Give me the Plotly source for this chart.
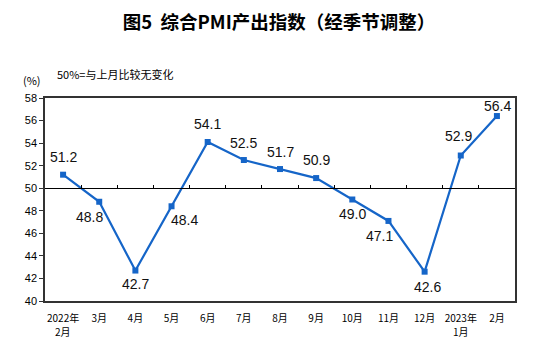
import plotly.graph_objects as go

months = ["2022年<br>2月", "3月", "4月", "5月", "6月", "7月", "8月", "9月",
          "10月", "11月", "12月", "2023年<br>1月", "2月"]
pmi = [51.2, 48.8, 42.7, 48.4, 54.1, 52.5, 51.7, 50.9, 49.0, 47.1, 42.6, 52.9, 56.4]
y_ticks = list(range(40, 59, 2))

# pixel offsets (dx, dy) of each value label relative to its marker
label_offsets = [(0, 18), (-10, -15), (0, -13), (13, -14), (0, 18), (0, 17),
                 (0, 17), (0, 18), (0, -14), (-9, -15), (3, -15), (-2, 20),
                 (1, 10)]

blue = "#1565C8"
font_cjk = "Noto Sans CJK SC, Liberation Sans, sans-serif"
x_idx = list(range(len(months)))

# first line of each month label goes on the axis, second line (if any) below it
first_lines = [m.split("<br>")[0] for m in months]
second_lines = [m.split("<br>")[1] if "<br>" in m else "" for m in months]

fig = go.Figure()
fig.add_trace(go.Scatter(
    x=x_idx, y=pmi,
    mode="lines+markers",
    line=dict(color=blue, width=2.2),
    marker=dict(symbol="square", size=6, color=blue),
    showlegend=False, hoverinfo="x+y",
))
# invisible trace so the 50-line axis is drawn
fig.add_trace(go.Scatter(x=[0], y=[50], xaxis="x2", mode="markers",
                         marker=dict(opacity=0), showlegend=False, hoverinfo="skip"))

annotations = []
for i, (v, (dx, dy)) in enumerate(zip(pmi, label_offsets)):
    annotations.append(dict(
        x=i, y=v, xref="x", yref="y", text=f"{v:.1f}", showarrow=False,
        xshift=dx, yshift=dy, xanchor="center", yanchor="middle",
        font=dict(family="Liberation Sans, Arial", size=14, color="#111"),
    ))
for i, s in enumerate(second_lines):
    if s:
        annotations.append(dict(
            x=i, y=0, xref="x", yref="paper", text=s, showarrow=False,
            yshift=-30, xanchor="center", yanchor="middle",
            font=dict(family=font_cjk, size=10, color="#000"),
        ))
annotations += [
    dict(text="(%)", xref="paper", yref="paper", x=-0.028, y=1.089,
         xanchor="center", yanchor="middle", showarrow=False,
         font=dict(family=font_cjk, size=11, color="#000")),
    dict(text="50%=与上月比较无变化", xref="paper", yref="paper", x=0.021, y=1.118,
         xanchor="left", yanchor="middle", showarrow=False,
         font=dict(family=font_cjk, size=11, color="#000")),
]

fig.update_layout(
    width=558, height=349,
    margin=dict(l=45, r=43, t=98, b=48),
    paper_bgcolor="white", plot_bgcolor="white",
    title=dict(text="<b>图5  综合PMI产出指数（经季节调整）</b>",
               x=0.5, xanchor="center", y=0.935, yanchor="middle",
               font=dict(family=font_cjk, size=18.5, color="#000")),
    xaxis=dict(range=[-0.5, 12.5], tickmode="array",
               tickvals=x_idx, ticktext=first_lines,
               showgrid=False, zeroline=False, showline=True,
               linecolor="#333", linewidth=1.5, mirror=True, ticks="",
               ticklabelstandoff=7,
               tickfont=dict(family=font_cjk, size=10, color="#000")),
    xaxis2=dict(range=[-0.5, 12.5], overlaying="x", anchor="free",
                position=(50 - 40) / (58 - 40), side="bottom",
                tickmode="array", tickvals=[i + 0.5 for i in x_idx[:-1]],
                ticks="inside", ticklen=3, tickcolor="#000", tickwidth=1,
                showticklabels=False, showgrid=False, zeroline=False,
                showline=True, linecolor="#000", linewidth=1.2),
    yaxis=dict(range=[40, 58], tickmode="array", tickvals=y_ticks,
               showgrid=False, zeroline=False, showline=True,
               linecolor="#333", linewidth=1.5, mirror=True,
               ticks="outside", ticklen=4, tickcolor="#333",
               tickfont=dict(family="Liberation Sans, Arial", size=11, color="#000")),
    annotations=annotations,
)

fig.write_html("out.html")
